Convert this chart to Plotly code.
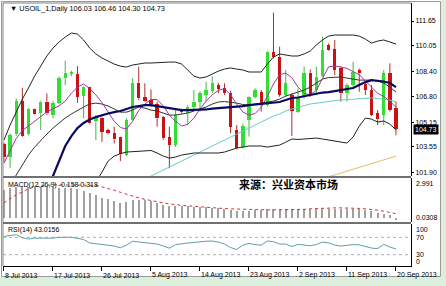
import plotly.graph_objects as go

# ---------------- data ----------------
tick_bars = [0, 8, 16, 24, 32, 40, 48, 56, 64]
tick_labels = ["8 Jul 2013", "17 Jul 2013", "26 Jul 2013", "5 Aug 2013", "14 Aug 2013",
               "23 Aug 2013", "2 Sep 2013", "11 Sep 2013", "20 Sep 2013"]

opens = [103.73, 102.92, 104.36, 106.50, 104.36, 105.97, 105.71, 106.46, 105.60, 106.39,
         107.96, 108.26, 108.24, 106.84, 107.38, 105.24, 105.39, 104.64, 104.46, 104.16,
         103.03, 105.28, 107.68, 106.74, 106.57, 106.31, 105.45, 104.16, 103.67, 105.92,
         105.71, 106.09, 106.46, 106.89, 107.17, 107.53, 107.32, 107.00, 104.64, 103.56,
         105.28, 106.78, 107.08, 106.24, 109.65, 109.35, 106.89, 106.89, 105.82, 106.78,
         108.32, 107.21, 108.11, 110.10, 109.83, 108.60, 107.00, 107.53, 108.50, 107.57,
         107.21, 105.71, 105.60, 108.28, 106.03]
highs = [103.82, 104.42, 106.67, 107.36, 106.07, 106.01, 106.52, 107.00, 106.50, 108.07,
         109.10, 108.45, 108.75, 107.47, 107.42, 105.60, 105.45, 104.72, 104.85, 104.21,
         105.39, 107.96, 108.71, 107.64, 107.25, 106.46, 105.54, 104.85, 105.92, 106.01,
         106.24, 107.21, 107.14, 107.75, 108.07, 107.68, 107.64, 107.17, 104.96, 105.06,
         106.82, 107.32, 107.21, 109.74, 112.19, 110.00, 108.50, 107.00, 107.32, 108.71,
         108.54, 108.71, 110.64, 110.21, 110.43, 108.71, 107.64, 109.03, 108.60, 107.75,
         107.53, 105.92, 108.50, 108.93, 106.46]
lows = [102.60, 102.21, 104.25, 104.21, 104.29, 105.60, 104.64, 105.60, 105.39, 106.31,
        107.53, 108.11, 106.39, 105.39, 105.00, 103.99, 103.88, 104.36, 103.78, 102.64,
        102.96, 105.24, 106.56, 106.46, 106.14, 104.85, 103.99, 102.17, 103.56, 105.71,
        104.96, 105.92, 105.82, 106.46, 107.00, 107.00, 106.89, 104.42, 103.39, 103.46,
        104.21, 106.67, 105.82, 106.14, 109.25, 106.78, 106.78, 104.25, 105.75, 106.67,
        106.78, 106.89, 108.07, 109.74, 108.17, 106.46, 106.46, 107.42, 107.10, 106.89,
        105.54, 104.96, 104.96, 105.82, 104.30]
closes = [102.88, 104.31, 106.50, 104.25, 106.01, 105.64, 106.46, 105.71, 106.35, 107.96,
          108.32, 108.30, 106.78, 107.42, 105.06, 105.45, 104.53, 104.42, 104.03, 103.09,
          105.28, 107.68, 106.67, 106.52, 106.31, 105.39, 104.10, 103.67, 105.60, 105.79,
          106.09, 106.46, 107.00, 107.21, 107.64, 107.27, 107.00, 104.85, 103.46, 104.89,
          106.78, 107.21, 106.24, 109.68, 109.33, 106.89, 107.64, 105.86, 106.78, 108.28,
          106.89, 108.07, 109.78, 109.78, 108.50, 107.00, 107.53, 108.39, 108.28, 107.21,
          105.60, 105.32, 108.28, 105.92, 104.73]

bb_upper = [103.99, 104.96, 105.79, 106.63, 107.34, 108.11, 108.75, 109.40, 109.91, 110.30,
            110.62, 110.88, 110.81, 110.43, 109.91, 109.53, 109.27, 109.08, 108.88, 108.75,
            108.69, 108.82, 108.88, 108.95, 108.95, 108.98, 109.01, 109.01, 109.01, 108.88,
            108.50, 108.11, 107.98, 108.05, 108.24, 108.43, 108.56, 108.63, 108.56, 108.50,
            108.37, 108.37, 108.37, 108.88, 109.33, 109.53, 109.46, 109.40, 109.40, 109.53,
            109.72, 110.11, 110.43, 110.68, 110.75, 110.75, 110.75, 110.75, 110.68, 110.49,
            110.23, 110.36, 110.43, 110.30, 110.17]
bb_lower = [91.0, 91.5, 92.2, 93.0, 94.0, 95.0, 96.0, 97.0, 97.8, 98.5,
            99.2, 99.8, 100.3, 100.7, 101.03, 101.29, 101.93, 102.64, 102.96, 103.12,
            103.22, 103.25, 103.28, 103.32, 103.32, 103.16, 102.96, 102.83, 102.90, 103.03,
            103.09, 103.16, 103.16, 103.16, 103.16, 103.16, 103.22, 103.35, 103.48, 103.54,
            103.61, 103.61, 103.61, 103.54, 103.61, 103.67, 103.86, 104.06, 104.03, 104.06,
            104.09, 104.12, 104.06, 103.99, 103.93, 103.86, 103.80, 104.19, 104.89, 105.41,
            105.34, 105.15, 105.22, 105.02, 104.64]
ma_navy = [94.0, 95.0, 96.0, 97.0, 97.9, 98.8, 99.6, 100.5, 101.68, 102.71,
           103.61, 104.25, 104.76, 105.09, 105.31, 105.47, 105.60, 105.70, 105.79, 105.86,
           105.99, 106.12, 106.18, 106.24, 106.24, 106.18, 106.12, 106.05, 105.99, 105.92,
           105.92, 105.92, 105.92, 105.96, 106.02, 106.05, 106.08, 106.12, 106.12, 106.18,
           106.24, 106.28, 106.31, 106.37, 106.41, 106.44, 106.57, 106.70, 106.73, 106.82,
           106.89, 106.95, 107.05, 107.08, 107.14, 107.18, 107.24, 107.34, 107.53, 107.72,
           107.85, 107.82, 107.76, 107.66, 107.40]
ma_black = [100.45, 101.10, 101.74, 102.38, 103.03, 103.54, 103.99, 104.38, 104.76, 105.09,
            105.41, 105.67, 105.92, 106.12, 106.31, 106.37, 106.31, 106.18, 105.99, 105.79,
            105.79, 105.92, 106.12, 106.05, 105.92, 105.86, 105.73, 105.60, 105.60, 105.67,
            105.73, 105.86, 105.99, 106.12, 106.31, 106.44, 106.47, 106.44, 106.37, 106.28,
            106.24, 106.31, 106.37, 106.44, 106.50, 106.63, 106.82, 106.95, 107.08, 107.21,
            107.40, 107.66, 107.92, 108.01, 108.05, 108.05, 107.98, 107.92, 107.85, 107.85,
            107.85, 107.79, 107.66, 107.40, 107.08]
ma_purple = [102.5, 103.3, 104.1, 104.6, 104.9, 105.2, 105.5, 105.8, 106.0, 106.2,
             106.5, 107.0, 107.4, 107.6, 107.3, 106.9, 106.4, 105.8, 105.2, 104.8,
             104.7, 105.2, 105.9, 106.3, 106.6, 106.6, 106.2, 105.6, 105.2, 104.9,
             105.0, 105.4, 106.0, 106.5, 106.9, 107.2, 107.3, 106.9, 106.3, 105.8,
             105.6, 105.7, 106.1, 106.8, 107.6, 108.2, 108.3, 108.0, 107.4, 107.0,
             106.9, 107.2, 108.0, 108.7, 108.75, 108.7, 108.6, 108.4, 108.2, 107.8,
             107.4, 107.0, 106.8, 106.5, 106.1]
ma_cyan = [97.1, 97.3, 97.5, 97.7, 97.9, 98.1, 98.3, 98.5, 98.7, 98.9,
           99.1, 99.3, 99.5, 99.7, 99.9, 100.1, 100.3, 100.5, 100.7, 100.9,
           101.0, 101.15, 101.3, 101.49, 101.68, 101.87, 102.06, 102.26, 102.45, 102.64,
           102.83, 103.03, 103.22, 103.41, 103.61, 103.80, 103.99, 104.19, 104.38, 104.57,
           104.76, 104.96, 105.15, 105.34, 105.54, 105.67, 105.86, 105.99, 106.12, 106.21,
           106.31, 106.37, 106.44, 106.50, 106.53, 106.57, 106.60, 106.63, 106.66, 106.70,
           106.70, 106.66, 106.63, 106.57, 106.44]
ma_orange = [None] * 40 + [
    100.06, 100.18, 100.30, 100.42, 100.54, 100.66, 100.78, 100.90, 101.02, 101.14,
    101.26, 101.38, 101.50, 101.62, 101.75, 101.87, 101.99, 102.11, 102.23, 102.36,
    102.48, 102.60, 102.72, 102.84, 102.96]

macd_main = [2.11, 2.22, 2.29, 2.33, 2.33, 2.33, 2.33, 2.33, 2.29, 2.26,
             2.26, 2.22, 2.14, 2.03, 1.84, 1.73, 1.50, 1.39, 1.24, 1.09,
             1.17, 1.32, 1.35, 1.35, 1.28, 1.09, 0.94, 0.86, 0.86, 0.86,
             0.86, 0.83, 0.83, 0.79, 0.75, 0.71, 0.68, 0.60, 0.53, 0.53,
             0.53, 0.56, 0.60, 0.64, 0.68, 0.68, 0.68, 0.64, 0.66, 0.66,
             0.66, 0.68, 0.70, 0.70, 0.70, 0.68, 0.68, 0.68, 0.64, 0.60,
             0.53, 0.38, 0.30, 0.23, -0.158]
macd_signal = [1.13, 1.43, 1.73, 1.95, 2.18, 2.33, 2.41, 2.44, 2.48, 2.48,
               2.48, 2.48, 2.48, 2.48, 2.48, 2.44, 2.33, 2.22, 2.07, 1.92,
               1.77, 1.62, 1.50, 1.39, 1.32, 1.20, 1.13, 1.05, 1.02, 0.94,
               0.90, 0.86, 0.83, 0.79, 0.75, 0.71, 0.70, 0.68, 0.66, 0.64,
               0.62, 0.60, 0.60, 0.60, 0.60, 0.60, 0.60, 0.60, 0.62, 0.64,
               0.68, 0.71, 0.74, 0.75, 0.75, 0.75, 0.75, 0.73, 0.71, 0.68,
               0.64, 0.58, 0.50, 0.42, 0.318]
rsi = [72, 74, 76, 69, 66, 68, 68, 67.6, 68, 70,
       70, 70, 67.6, 65, 57, 55, 54, 52, 50, 46,
       52, 61, 59, 58, 56, 54.5, 50, 45, 53, 55.6,
       57, 58, 60, 61, 61.4, 59, 54.5, 46.4, 42, 52,
       56, 53, 52, 61.4, 60, 54.5, 54.5, 48.7, 53.8, 51.5,
       50.6, 53.3, 59, 57.2, 52, 49.9, 52, 53.3, 52.6, 49.2,
       45.3, 44, 53.8, 47.6, 43.0156]

price_ticks = [111.65, 110.05, 108.40, 106.80, 105.15, 103.55, 101.90]
price_range = [101.68, 112.81]
macd_range = [-0.308, 2.991]
rsi_range = [4.0, 100.6]
rsi_levels = [70, 30]

title_text = "▼ USOIL_1,Daily 106.03 106.46 104.30 104.73"
macd_text = "MACD(12,26,9) -0.158 0.318"
rsi_text = "RSI(14) 43.0156"
source_text = "来源：兴业资本市场"

# ---------------- layout geometry ----------------
W, H = 446, 286
ML, MR, MT, MB = 3, 35, 3, 20
PW = W - ML - MR
PH = H - MT - MB


def fx(px):
    return (px - ML) / PW


def fy(py):
    return (H - MB - py) / PH


n = len(closes)
bars = list(range(n))
x_range = [-0.16, 66.45]

GREEN = "#33dd33"
RED = "#cc1111"
GREEN_W = "#44b844"
RED_W = "#a83030"
FONT = "Liberation Sans"

fig = go.Figure()

# candle wicks (segments above and below the body)
for up, wcol in [(True, GREEN_W), (False, RED_W)]:
    wx, wy = [], []
    for i in bars:
        if (closes[i] >= opens[i]) != up:
            continue
        top = max(opens[i], closes[i])
        bot = min(opens[i], closes[i])
        wx += [i, i, None, i, i, None]
        wy += [highs[i], top, None, bot, lows[i], None]
    fig.add_trace(go.Scatter(x=wx, y=wy, mode="lines", line=dict(color=wcol, width=1),
                             xaxis="x", yaxis="y", hoverinfo="skip", showlegend=False))

# candle bodies
fig.add_trace(go.Bar(
    x=bars,
    base=[min(o, c) for o, c in zip(opens, closes)],
    y=[max(abs(c - o), 0.05) for o, c in zip(opens, closes)],
    width=0.56,
    marker=dict(color=[GREEN if c >= o else RED for o, c in zip(opens, closes)], line=dict(width=0)),
    xaxis="x", yaxis="y", showlegend=False, hoverinfo="skip"))

# indicator lines
for vals, col, wd in [(ma_orange, "#e8b868", 1), (ma_cyan, "#66c8cc", 1),
                      (bb_upper, "#222222", 1), (bb_lower, "#222222", 1),
                      (ma_black, "#333333", 1), (ma_purple, "#9a3aa0", 1),
                      (ma_navy, "#0a0a60", 2.2)]:
    fig.add_trace(go.Scatter(x=bars, y=vals, mode="lines", line=dict(color=col, width=wd),
                             xaxis="x", yaxis="y", hoverinfo="skip", showlegend=False,
                             connectgaps=False))

# MACD
fig.add_trace(go.Bar(x=bars, y=macd_main, width=0.17, marker=dict(color="#a0a0a0", line=dict(width=0)),
                     xaxis="x2", yaxis="y2", showlegend=False, hoverinfo="skip"))
fig.add_trace(go.Scatter(x=bars, y=macd_signal, mode="lines",
                         line=dict(color="#cc3333", width=1, dash="dot"),
                         xaxis="x2", yaxis="y2", showlegend=False, hoverinfo="skip"))

# RSI
fig.add_trace(go.Scatter(x=bars, y=rsi, mode="lines", line=dict(color="#5f9ea8", width=1),
                         xaxis="x3", yaxis="y3", showlegend=False, hoverinfo="skip"))

d_main = [fy(176), 1.0]
d_macd = [fy(222), fy(178)]
d_rsi = [0.0, fy(224)]

common_x = dict(range=x_range, showgrid=False, zeroline=False, showticklabels=False, fixedrange=True)
common_y = dict(side="right", showgrid=False, zeroline=False, showline=True, linecolor="black",
                linewidth=1)

fig.update_layout(
    width=W, height=H,
    margin=dict(l=ML, r=MR, t=MT, b=MB),
    paper_bgcolor="#dcefdc",
    plot_bgcolor="white",
    showlegend=False,
    bargap=0,
    barmode="overlay",
    xaxis=dict(domain=[0, 1], anchor="y", ticks="", **common_x),
    xaxis2=dict(domain=[0, 1], anchor="y2", matches="x", ticks="", **common_x),
    xaxis3=dict(domain=[0, 1], anchor="y3", matches="x", ticks="outside", ticklen=4,
                tickcolor="black", tickvals=tick_bars, showline=True, linecolor="black", **common_x),
    yaxis=dict(domain=d_main, anchor="x", range=price_range, tickvals=price_ticks,
               ticktext=["%.2f" % v for v in price_ticks], ticks="outside", ticklen=2,
               tickcolor="black", tickfont=dict(family=FONT, size=7, color="black"), **common_y),
    yaxis2=dict(domain=d_macd, anchor="x2", range=macd_range, showticklabels=False, ticks="", **common_y),
    yaxis3=dict(domain=d_rsi, anchor="x3", range=rsi_range, showticklabels=False, ticks="", **common_y),
)

shapes = [
    # white canvas (green frame remains at right and bottom)
    dict(type="rect", xref="paper", yref="paper", x0=fx(0), x1=fx(441), y0=fy(277), y1=fy(0),
         fillcolor="white", line=dict(width=0), layer="below"),
    # outer border
    dict(type="rect", xref="paper", yref="paper", x0=fx(1.5), x1=fx(440.5), y0=fy(276.5), y1=fy(1.5),
         line=dict(color="#9a9a9a", width=1), fillcolor="rgba(0,0,0,0)", layer="above"),
    dict(type="line", xref="paper", yref="paper", x0=fx(3), x1=fx(3), y0=fy(266), y1=fy(3),
         line=dict(color="#808080", width=1)),
    dict(type="line", xref="paper", yref="paper", x0=fx(3), x1=fx(411), y0=fy(3), y1=fy(3),
         line=dict(color="#808080", width=1)),
    # panel separators
    dict(type="rect", xref="paper", yref="paper", x0=fx(3), x1=fx(411), y0=fy(178), y1=fy(176),
         fillcolor="#707070", line=dict(width=0)),
    dict(type="rect", xref="paper", yref="paper", x0=fx(3), x1=fx(411), y0=fy(224), y1=fy(222),
         fillcolor="#707070", line=dict(width=0)),
]
for lv in rsi_levels:
    shapes.append(dict(type="line", xref="x3 domain", yref="y3", x0=0, x1=1, y0=lv, y1=lv,
                       line=dict(color="#b0b0b0", width=1, dash="dot"), layer="below"))
fig.update_layout(shapes=shapes)

ann = []


def label(text, px, py, size=7, color="black", anchor="left", **kw):
    ann.append(dict(text=text, x=fx(px), y=fy(py), xref="paper", yref="paper",
                    xanchor=anchor, yanchor="middle", showarrow=False,
                    font=dict(family=kw.pop("family", FONT), size=size, color=color), **kw))


label(title_text, 8, 8.5, size=7.3)
label(macd_text, 6, 185)
label(rsi_text, 6, 230)
label("<b>" + source_text + "</b>", 237, 184, size=11, family="Noto Sans CJK SC")
label("2.991", 414, 183)
label("0.0308", 414, 217)
label("100", 414, 229)
label("70", 414, 237.5)
label("30", 414, 254.5)
label("0", 414, 261.5)
label("104.73", 413, 129.5, color="white", bgcolor="black", borderpad=1)
for b, t in zip(tick_bars, tick_labels):
    ann.append(dict(text=t, x=b, xref="x3", y=fy(275), yref="paper", xanchor="left",
                    yanchor="middle", xshift=-1, showarrow=False,
                    font=dict(family=FONT, size=7, color="black")))
fig.update_layout(annotations=ann)

fig.write_html("out.html")
